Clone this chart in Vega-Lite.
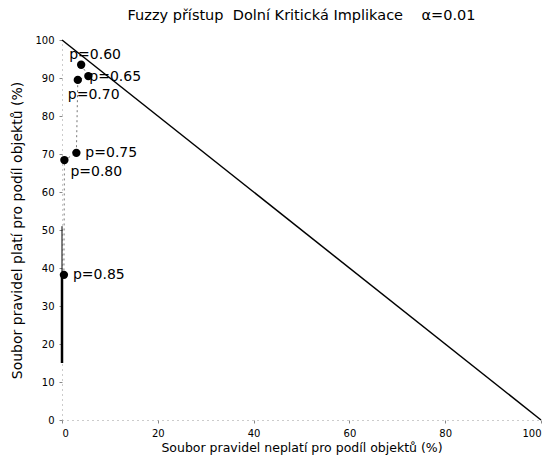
{
  "$schema": "https://vega.github.io/schema/vega-lite/v6.json",
  "autosize": "none",
  "width": 479,
  "height": 380,
  "padding": {"left": 62, "top": 40, "right": 17, "bottom": 44},
  "background": "white",
  "title": {
    "text": "Fuzzy přístup\u00a0\u00a0Dolní Kritická Implikace\u00a0\u00a0\u00a0\u00a0α=0.01",
    "font": "DejaVu Sans",
    "fontSize": 14.5,
    "fontWeight": "normal",
    "color": "black",
    "anchor": "middle",
    "offset": 12
  },
  "config": {
    "view": {"stroke": null},
    "axis": {
      "labelFont": "DejaVu Sans",
      "labelFontSize": 10,
      "labelColor": "black",
      "titleFont": "DejaVu Sans",
      "titleFontWeight": "normal",
      "titleColor": "black",
      "grid": false,
      "domainColor": "#999",
      "domainDash": [1, 4],
      "tickColor": "#888",
      "tickSize": 3,
      "labelOverlap": false
    }
  },
  "datasets": {
    "diag": [{"x": 0, "y": 100}, {"x": 100, "y": 0}],
    "seg": [{"x": 0, "y": 38}, {"x": 0, "y": 15}],
    "thin": [{"x": 0, "y": 51}, {"x": 0, "y": 38}],
    "curve": [
      {"p": "p=0.60", "x": 4, "y": 93.5, "o": 1},
      {"p": "p=0.65", "x": 5.5, "y": 90.5, "o": 2},
      {"p": "p=0.70", "x": 3.3, "y": 89.5, "o": 3},
      {"p": "p=0.75", "x": 3, "y": 70.3, "o": 4},
      {"p": "p=0.80", "x": 0.5, "y": 68.4, "o": 5},
      {"p": "p=0.85", "x": 0.4, "y": 38.2, "o": 6}
    ]
  },
  "encoding": {
    "x": {
      "field": "x", "type": "quantitative",
      "scale": {"domain": [0, 100], "nice": false},
      "axis": {"values": [0, 20, 40, 60, 80, 100], "title": "Soubor pravidel neplatí pro podíl objektů (%)", "titleFontSize": 12.5, "labelPadding": 5, "titlePadding": 3}
    },
    "y": {
      "field": "y", "type": "quantitative",
      "scale": {"domain": [0, 100], "nice": false},
      "axis": {"values": [0, 10, 20, 30, 40, 50, 60, 70, 80, 90, 100], "title": "Soubor pravidel platí pro podíl objektů (%)", "titleFontSize": 14, "labelPadding": 5, "titlePadding": 10}
    }
  },
  "layer": [
    {
      "data": {"name": "diag"},
      "mark": {"type": "line", "color": "black", "strokeWidth": 1.5}
    },
    {
      "data": {"name": "curve"},
      "mark": {"type": "line", "color": "#777", "strokeWidth": 1, "strokeDash": [2, 3]},
      "encoding": {"order": {"field": "o"}}
    },
    {
      "data": {"name": "thin"},
      "mark": {"type": "line", "color": "black", "strokeWidth": 1}
    },
    {
      "data": {"name": "seg"},
      "mark": {"type": "line", "color": "black", "strokeWidth": 2.5}
    },
    {
      "data": {"name": "curve"},
      "mark": {"type": "circle", "color": "black", "opacity": 1, "size": 70}
    },
    {
      "data": {"name": "curve"},
      "transform": [{"filter": "datum.p == 'p=0.75' || datum.p == 'p=0.85'"}],
      "mark": {"type": "text", "align": "left", "baseline": "middle", "dx": 9, "font": "DejaVu Sans", "fontSize": 14, "color": "black"},
      "encoding": {"text": {"field": "p"}}
    },
    {
      "data": {"name": "curve"},
      "transform": [{"filter": "datum.p == 'p=0.80'"}],
      "mark": {"type": "text", "align": "left", "baseline": "middle", "dx": 6, "dy": 12, "font": "DejaVu Sans", "fontSize": 14, "color": "black"},
      "encoding": {"text": {"field": "p"}}
    },
    {
      "data": {"name": "curve"},
      "transform": [{"filter": "datum.p == 'p=0.60'"}],
      "mark": {"type": "text", "align": "left", "baseline": "middle", "dx": -12, "dy": -10, "font": "DejaVu Sans", "fontSize": 14, "color": "black"},
      "encoding": {"text": {"field": "p"}}
    },
    {
      "data": {"name": "curve"},
      "transform": [{"filter": "datum.p == 'p=0.65'"}],
      "mark": {"type": "text", "align": "left", "baseline": "middle", "dx": 1, "dy": 1, "font": "DejaVu Sans", "fontSize": 14, "color": "black"},
      "encoding": {"text": {"field": "p"}}
    },
    {
      "data": {"name": "curve"},
      "transform": [{"filter": "datum.p == 'p=0.70'"}],
      "mark": {"type": "text", "align": "left", "baseline": "middle", "dx": -10, "dy": 15, "font": "DejaVu Sans", "fontSize": 14, "color": "black"},
      "encoding": {"text": {"field": "p"}}
    }
  ]
}
